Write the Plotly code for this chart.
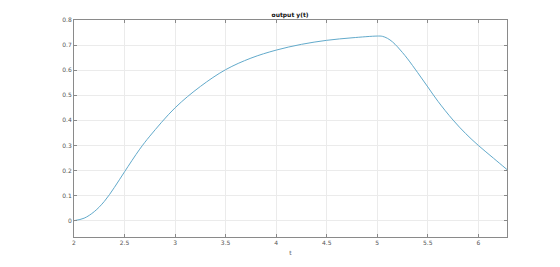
import plotly.graph_objects as go

t_vals = [2.0, 2.1, 2.2, 2.3, 2.4, 2.5, 2.65, 2.75, 3.0, 3.25, 3.5, 3.75, 4.0, 4.25, 4.5,
          4.75, 5.0, 5.05, 5.1, 5.15, 5.2, 5.25, 5.3, 5.4, 5.5, 5.6, 5.75, 5.875, 6.0, 6.15, 6.283]
y_vals = [0.0, 0.01, 0.036, 0.077, 0.133, 0.195, 0.285, 0.337, 0.45, 0.535, 0.602, 0.648,
          0.68, 0.703, 0.719, 0.729, 0.736, 0.735, 0.727, 0.713, 0.693, 0.67, 0.645, 0.59,
          0.533, 0.476, 0.401, 0.347, 0.3, 0.249, 0.204]

x_ticks = [2, 2.5, 3, 3.5, 4, 4.5, 5, 5.5, 6]
x_labels = ["2", "2.5", "3", "3.5", "4", "4.5", "5", "5.5", "6"]
y_ticks = [0, 0.1, 0.2, 0.3, 0.4, 0.5, 0.6, 0.7, 0.8]
y_labels = ["0", "0.1", "0.2", "0.3", "0.4", "0.5", "0.6", "0.7", "0.8"]

fig = go.Figure()
fig.add_trace(go.Scatter(x=t_vals, y=y_vals, mode="lines",
                         line=dict(color="#62aacb", width=1, shape="spline", smoothing=1),
                         hoverinfo="skip", showlegend=False))

axis_common = dict(
    showline=True, linecolor="#8a8a8a", linewidth=1, mirror="ticks",
    ticks="inside", ticklen=3, tickcolor="#8a8a8a", tickwidth=1,
    showgrid=True, gridcolor="#ebebeb", gridwidth=1, zeroline=False,
    tickfont=dict(family="DejaVu Sans", size=6, color="#555555"),
)

fig.update_layout(
    width=560, height=267,
    margin=dict(l=74, r=53, t=20, b=30),
    paper_bgcolor="white", plot_bgcolor="white",
    title=dict(text="<b>output y(t)</b>", x=0.518, xanchor="center", y=0.945, yanchor="middle",
               font=dict(family="DejaVu Sans", size=6, color="#111111")),
    xaxis=dict(range=[2, 6.2832], tickvals=x_ticks, ticktext=x_labels,
               title=dict(text="t", font=dict(family="DejaVu Sans", size=6, color="#555555"), standoff=5),
               **axis_common),
    yaxis=dict(range=[-0.065, 0.8], tickvals=y_ticks, ticktext=y_labels, **axis_common),
)

fig.write_html("out.html")
